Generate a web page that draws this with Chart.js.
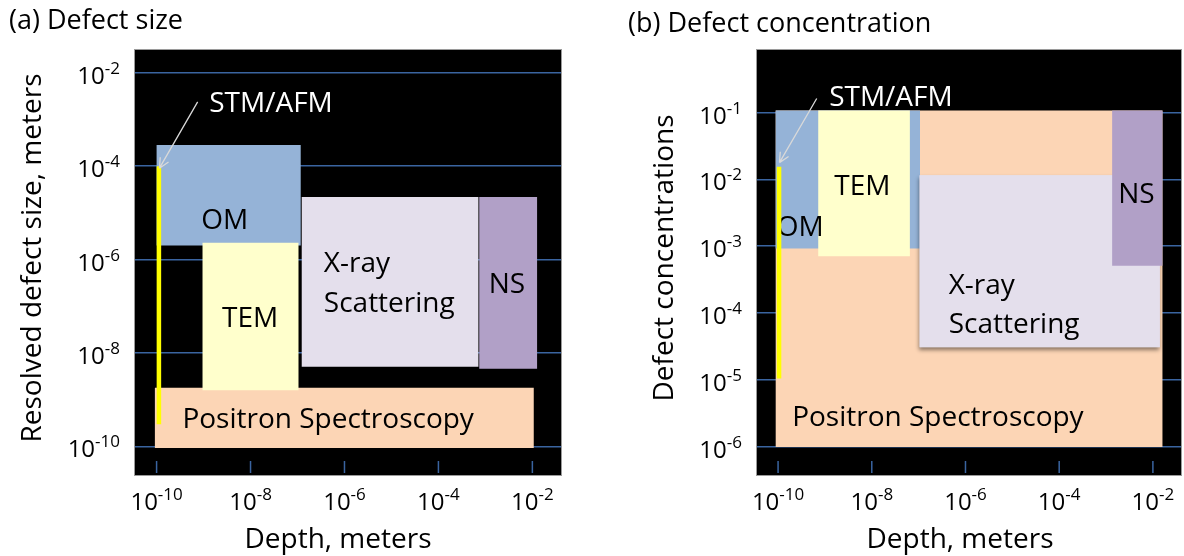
<!DOCTYPE html>
<html>
<head>
<meta charset="utf-8">
<script src="https://cdn.jsdelivr.net/npm/chart.js@4.4.1/dist/chart.umd.min.js"></script>
<style>
  body { margin: 0; background: #fff; width: 1184px; height: 556px; overflow: hidden; position: relative; }
  canvas { position: absolute; top: 0; }
  #chartA { left: 0; }
  #chartB { left: 600px; }
</style>
</head>
<body>
<canvas id="chartA" width="600" height="556"></canvas>
<canvas id="chartB" width="584" height="556"></canvas>
<script>
// tick values
const depthTicks = [1e-10, 1e-8, 1e-6, 1e-4, 1e-2];
const sizeTicks = [1e-10, 1e-8, 1e-6, 1e-4, 1e-2];
const concTicks = [1e-6, 1e-5, 1e-4, 1e-3, 1e-2, 1e-1];

// ranges of each method: [depth from, depth to, value from, value to]
// (a) resolved defect size, meters
const sizeOM = [1e-10, 1.17e-7, 2.0e-6, 2.85e-4];
const sizeTEM = [9.5e-10, 1.05e-7, 1.6e-9, 2.3e-6];
const sizeXray = [1.23e-7, 7.1e-4, 5.1e-9, 2.2e-5];
const sizeNS = [7.4e-4, 1.26e-2, 4.6e-9, 2.2e-5];
const sizePositron = [9.2e-11, 1.07e-2, 9.3e-11, 1.8e-9];
const sizeSTM = [1.12e-10, 3.0e-10, 1e-4]; // depth, size from, size to

// (b) defect concentration
const concOM = [8.9e-11, 1.07e-7, 9.3e-4, 1.07e-1];
const concTEM = [7.2e-10, 6.5e-8, 7.1e-4, 1.07e-1];
const concXray = [1.05e-7, 1.4e-2, 3.1e-5, 1.15e-2];
const concNS = [1.35e-3, 1.6e-2, 5.1e-4, 1.07e-1];
const concPositron = [8.9e-11, 1.6e-2, 1e-6, 1.07e-1];
const concSTM = [1.05e-10, 1.05e-5, 1.55e-2];

const colOM = "#95B3D7";
const colTEM = "#FFFFCC";
const colXray = "#E4DFEC";
const colNS = "#B1A0C7";
const colPositron = "#FCD5B5";
const colSTM = "#FFFF00";
const gridColor = "#3A64A0";
const FONT = '"Open Sans", "Noto Sans", sans-serif';

function box(r, color, shadow) {
  return {
    data: [
      { x: r[0], y: r[2] }, { x: r[1], y: r[2] },
      { x: r[1], y: r[3] }, { x: r[0], y: r[3] }, { x: r[0], y: r[2] },
    ],
    range: r,
    shadow: !!shadow,
    fill: "shape",
    backgroundColor: color,
    borderColor: "rgba(0,0,0,0)",
    borderWidth: 1,
    pointRadius: 0,
    tension: 0,
  };
}

function stick(r) {
  return {
    data: [{ x: r[0], y: r[1] }, { x: r[0], y: r[2] }],
    borderColor: colSTM,
    borderWidth: 4.5,
    pointRadius: 0,
    fill: false,
  };
}

function drawPower(ctx, v, x, y, align) {
  const s = String(Math.round(Math.log10(v)));
  ctx.textAlign = "left";
  ctx.textBaseline = "alphabetic";
  ctx.font = "24px " + FONT;
  const w1 = ctx.measureText("10").width;
  ctx.font = "17px " + FONT;
  const w2 = ctx.measureText(s).width;
  const x0 = align === "right" ? x - w1 - w2 : x - (w1 + w2) / 2;
  ctx.font = "24px " + FONT;
  ctx.fillText("10", x0, y);
  ctx.font = "17px " + FONT;
  ctx.fillText(s, x0 + w1, y - 10);
}

function makePanel(id, cfg) {
  const deco = {
    id: "deco",
    beforeDraw(chart) {
      const { ctx, chartArea: a } = chart;
      ctx.save();
      ctx.fillStyle = "#000";
      ctx.fillRect(a.left, a.top, a.right - a.left, a.bottom - a.top);
      ctx.restore();
    },
    afterDatasetDraw(chart, args) {
      const { ctx, scales } = chart;
      const px = (v) => scales.x.getPixelForValue(v);
      const py = (v) => scales.y.getPixelForValue(v);
      // soft shadow under a box, drawn just before that box
      const next = chart.data.datasets[args.index - 1];
      if (next && next.shadow) {
        const r = next.range;
        ctx.save();
        ctx.fillStyle = next.backgroundColor;
        ctx.shadowColor = "rgba(0,0,0,0.45)";
        ctx.shadowBlur = 4;
        ctx.shadowOffsetX = -1;
        ctx.shadowOffsetY = 3;
        ctx.fillRect(px(r[0]), py(r[3]), px(r[1]) - px(r[0]), py(r[2]) - py(r[3]));
        ctx.restore();
      }
      // method labels go under the STM/AFM line
      if (args.index === 1) {
        ctx.save();
        ctx.font = "28px " + FONT;
        ctx.textBaseline = "alphabetic";
        for (const l of cfg.labels) {
          ctx.fillStyle = l.color || "#000";
          ctx.textAlign = l.align || "center";
          ctx.fillText(l.text, px(l.x), py(l.y) + 10);
        }
        ctx.restore();
      }
    },
    afterDatasetsDraw(chart) {
      const { ctx, scales } = chart;
      const px = (v) => scales.x.getPixelForValue(v);
      const py = (v) => scales.y.getPixelForValue(v);
      ctx.save();
      // arrow to the STM/AFM line
      const [x0, y0, x1, y1] = [px(cfg.arrow[0]), py(cfg.arrow[1]), px(cfg.arrow[2]), py(cfg.arrow[3])];
      ctx.strokeStyle = "#D9D9D9";
      ctx.lineWidth = 1.3;
      ctx.beginPath();
      ctx.moveTo(x0, y0);
      ctx.lineTo(x1, y1);
      const ang = Math.atan2(y1 - y0, x1 - x0);
      for (const d of [0.45, -0.45]) {
        ctx.moveTo(x1, y1);
        ctx.lineTo(x1 - 11 * Math.cos(ang + d), y1 - 11 * Math.sin(ang + d));
      }
      ctx.stroke();
      ctx.restore();
    },
    afterDraw(chart) {
      const { ctx, chartArea: a, scales } = chart;
      ctx.save();
      ctx.fillStyle = "#000";
      // x tick marks inside the plot
      ctx.strokeStyle = gridColor;
      ctx.lineWidth = 1.5;
      ctx.beginPath();
      for (const v of depthTicks) {
        const x = scales.x.getPixelForValue(v);
        ctx.moveTo(x, a.bottom - 14);
        ctx.lineTo(x, a.bottom - 2);
      }
      ctx.stroke();
      ctx.strokeStyle = "#9a9a9a";
      ctx.lineWidth = 1;
      ctx.strokeRect(a.left - 0.5, a.top - 0.5, a.right - a.left + 1, a.bottom - a.top + 1);
      // tick labels
      for (const v of depthTicks) drawPower(ctx, v, scales.x.getPixelForValue(v), 510, "center");
      for (const v of cfg.yTicks) drawPower(ctx, v, a.left - 15, scales.y.getPixelForValue(v) + 11, "right");
      // axis titles
      ctx.font = "28px " + FONT;
      ctx.textAlign = "center";
      ctx.textBaseline = "alphabetic";
      ctx.fillText("Depth, meters", cfg.xTitleX, 548);
      ctx.save();
      ctx.translate(cfg.yTitleX, 258);
      ctx.rotate(-Math.PI / 2);
      ctx.fillText(cfg.yTitle, 0, 0);
      ctx.restore();
      // panel title
      ctx.font = "27px " + FONT;
      ctx.textAlign = "left";
      ctx.fillText(cfg.title, cfg.titleX, cfg.titleY);
      ctx.restore();
    },
  };

  return new Chart(document.getElementById(id), {
    type: "line",
    data: { datasets: cfg.datasets },
    options: {
      responsive: false,
      animation: false,
      devicePixelRatio: 1,
      layout: { padding: cfg.padding },
      plugins: { legend: { display: false }, tooltip: { enabled: false } },
      scales: {
        x: {
          type: "logarithmic",
          min: cfg.xMin,
          max: cfg.xMax,
          afterBuildTicks: (s) => { s.ticks = depthTicks.map((v) => ({ value: v })); },
          ticks: { display: false },
          grid: { display: false, drawTicks: false },
          border: { display: false },
        },
        y: {
          type: "logarithmic",
          min: cfg.yMin,
          max: cfg.yMax,
          afterBuildTicks: (s) => { s.ticks = cfg.yTicks.map((v) => ({ value: v })); },
          ticks: { display: false },
          grid: { color: gridColor, lineWidth: 1.6, drawTicks: false },
          border: { display: false },
        },
      },
    },
    plugins: [deco],
  });
}

makePanel("chartA", {
  padding: { left: 135, top: 50, right: 39, bottom: 81 },
  xMin: 3.47e-11, xMax: 0.0407,
  yMin: 2.45e-11, yMax: 0.0309,
  yTicks: sizeTicks,
  title: "(a) Defect size", titleX: 9, titleY: 29,
  yTitle: "Resolved defect size, meters", yTitleX: 41, xTitleX: 338,
  datasets: [
    stick(sizeSTM),
    box(sizeTEM, colTEM),
    box(sizeOM, colOM),
    box(sizeNS, colNS),
    box(sizeXray, colXray),
    box(sizePositron, colPositron),
  ],
  arrow: [7.48e-10, 2.40e-3, 1.15e-10, 9.1e-5],
  labels: [
    { text: "OM", x: 2.82e-9, y: 7.41e-6 },
    { text: "TEM", x: 9.77e-9, y: 6.03e-8 },
    { text: "X-ray", x: 3.63e-7, y: 8.71e-7, align: "left" },
    { text: "Scattering", x: 3.63e-7, y: 1.26e-7, align: "left" },
    { text: "NS", x: 2.88e-3, y: 3.16e-7 },
    { text: "Positron Spectroscopy", x: 3.55e-10, y: 4.07e-10, align: "left" },
    { text: "STM/AFM", x: 1.32e-9, y: 2.40e-3, align: "left", color: "#fff" },
  ],
});

makePanel("chartB", {
  padding: { left: 157, top: 50, right: 3, bottom: 81 },
  xMin: 3.55e-11, xMax: 0.0398,
  yMin: 3.8e-7, yMax: 0.861,
  yTicks: concTicks,
  title: "(b) Defect concentration", titleX: 28, titleY: 32,
  yTitle: "Defect concentrations", yTitleX: 73, xTitleX: 360,
  datasets: [
    stick(concSTM),
    box(concNS, colNS),
    box(concXray, colXray, true),
    box(concTEM, colTEM),
    box(concOM, colOM),
    box(concPositron, colPositron),
  ],
  arrow: [6.68e-10, 0.162, 1.07e-10, 1.78e-2],
  labels: [
    { text: "OM", x: 9.33e-11, y: 2.04e-3, align: "left" },
    { text: "TEM", x: 6.31e-9, y: 8.32e-3 },
    { text: "NS", x: 4.47e-3, y: 6.17e-3 },
    { text: "X-ray", x: 4.37e-7, y: 2.75e-4, align: "left" },
    { text: "Scattering", x: 4.37e-7, y: 7.24e-5, align: "left" },
    { text: "Positron Spectroscopy", x: 2.0e-10, y: 2.88e-6, align: "left" },
    { text: "STM/AFM", x: 1.23e-9, y: 0.174, align: "left", color: "#fff" },
  ],
});
</script>
</body>
</html>
